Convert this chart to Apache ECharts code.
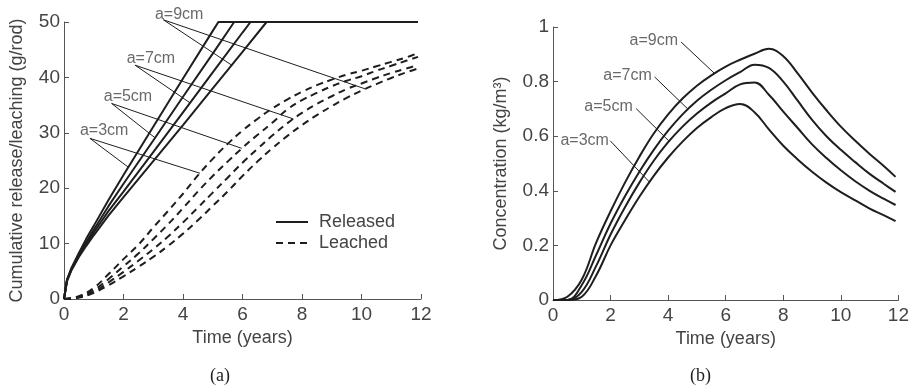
<!DOCTYPE html>
<html>
<head>
<meta charset="utf-8">
<script src="https://cdn.jsdelivr.net/npm/echarts@6/dist/echarts.min.js"></script>
<style>
html, body { margin: 0; padding: 0; background: #fff; }
#chart { width: 912px; height: 388px; }
</style>
</head>
<body>
<div id="chart"></div>
<script>
// (a) cumulative release (g/rod), one time list per rod radius
const relTime3 = [0, 0.1, 0.25, 0.5, 0.75, 1, 1.5, 2, 3, 4, 5, 5.19, 11.9]
const rel3 = [0, 3.5, 5.6, 8.3, 10.9, 13.2, 17.9, 22.4, 31.1, 39.8, 48.4, 50, 50]
const relTime5 = [0, 0.1, 0.25, 0.5, 0.75, 1, 1.5, 2, 3, 4, 5, 5.72, 11.9]
const rel5 = [0, 3.4, 5.4, 8.0, 10.3, 12.5, 16.8, 20.8, 28.6, 36.5, 44.3, 50, 50]
const relTime7 = [0, 0.1, 0.25, 0.5, 0.75, 1, 1.5, 2, 3, 4, 5, 6, 6.27, 11.9]
const rel7 = [0, 3.3, 5.3, 7.8, 10.0, 12.0, 15.9, 19.4, 26.5, 33.7, 40.9, 48.1, 50, 50]
const relTime9 = [0, 0.1, 0.25, 0.5, 0.75, 1, 1.5, 2, 3, 4, 5, 6, 6.81, 11.9]
const rel9 = [0, 3.2, 5.2, 7.6, 9.6, 11.5, 15.1, 18.4, 24.9, 31.4, 38.0, 44.6, 50, 50]

// (a) cumulative leaching (g/rod) and (b) concentration share one time grid
const years = [0, 0.5, 1, 1.5, 2, 2.5, 3, 3.5, 4, 4.5, 5, 5.5, 6, 6.5, 7, 7.5, 8, 8.5, 9, 9.5, 10, 10.5, 11, 11.5, 11.9]
const leach3 = [0, 0.5, 2.0, 4.5, 7.2, 9.8, 12.9, 15.9, 19.0, 22.3, 25.3, 28.0, 30.4, 32.5, 34.4, 36.0, 37.4, 38.6, 39.6, 40.5, 41.2, 42.0, 42.8, 43.6, 44.4]
const leach5 = [0, 0.4, 1.6, 3.6, 5.9, 8.2, 10.8, 13.5, 16.4, 19.4, 22.2, 24.8, 27.3, 29.6, 31.8, 34.2, 35.9, 37.2, 38.4, 39.4, 40.2, 41.2, 42.1, 43.0, 43.7]
const leach7 = [0, 0.3, 1.3, 3.0, 4.9, 6.9, 9.0, 11.3, 13.8, 16.5, 19.2, 21.9, 24.6, 27.1, 29.5, 31.7, 33.6, 35.2, 36.6, 37.9, 38.9, 39.9, 40.8, 41.6, 42.2]
const leach9 = [0, 0.25, 1.1, 2.5, 4.1, 5.8, 7.6, 9.6, 11.8, 14.2, 16.8, 19.4, 22.2, 24.8, 27.2, 29.4, 31.4, 33.2, 34.8, 36.3, 37.6, 38.8, 39.9, 40.9, 41.6]

// (b) concentration (kg/m3)
const conc3 = [0, 0, 0.012, 0.09, 0.2, 0.292, 0.378, 0.455, 0.522, 0.58, 0.63, 0.67, 0.703, 0.718, 0.688, 0.625, 0.565, 0.515, 0.47, 0.43, 0.395, 0.365, 0.335, 0.31, 0.289]
const conc5 = [0, 0, 0.03, 0.125, 0.24, 0.34, 0.43, 0.51, 0.578, 0.635, 0.683, 0.723, 0.757, 0.79, 0.797, 0.752, 0.69, 0.63, 0.57, 0.52, 0.475, 0.435, 0.4, 0.37, 0.348]
const conc7 = [0, 0, 0.055, 0.165, 0.28, 0.38, 0.47, 0.55, 0.62, 0.68, 0.73, 0.77, 0.805, 0.835, 0.862, 0.85, 0.8, 0.73, 0.66, 0.6, 0.55, 0.505, 0.462, 0.425, 0.396]
const conc9 = [0, 0.012, 0.075, 0.21, 0.325, 0.43, 0.525, 0.61, 0.68, 0.738, 0.785, 0.823, 0.855, 0.88, 0.902, 0.92, 0.893, 0.83, 0.76, 0.695, 0.635, 0.583, 0.535, 0.49, 0.451]

// annotation labels: text position and leader line (data coords)
const radiusLabels = ['a=3cm', 'a=5cm', 'a=7cm', 'a=9cm']
const labelPosA = [[1.35, 30.4], [2.15, 36.6], [2.92, 43.4], [3.87, 51.3]]
const leaderA = [
  [[2.16, 23.8], [0.87, 29], [4.57, 22.7]],
  [[3.06, 29.1], [1.6, 35.3], [5.97, 27.2]],
  [[4.24, 35.4], [2.39, 42.2], [7.71, 32.5]],
  [[5.64, 42.2], [3.34, 50.4], [10.14, 37.9]],
]
const labelPosB = [[1.1, 0.585], [1.93, 0.707], [2.59, 0.823], [3.5, 0.949]]
const leaderB = [
  [[1.99, 0.583], [3.35, 0.432]],
  [[2.89, 0.701], [4.05, 0.58]],
  [[3.53, 0.817], [4.68, 0.7]],
  [[4.45, 0.945], [5.61, 0.83]],
]

const ink = '#1e1e1e'
const textColor = '#444'
const font = 'Liberation Sans, Arial, sans-serif'

const zip = (xs, ys) => xs.map((x, i) => [x, ys[i]])

function curve(name, data, axis, dashed, smooth) {
  return {
    name,
    type: 'line',
    xAxisIndex: axis,
    yAxisIndex: axis,
    data,
    symbol: 'none',
    smooth,
    clip: false,
    silent: true,
    lineStyle: { color: ink, width: 2, type: dashed ? [7, 5] : 'solid' },
    itemStyle: { color: ink },
  }
}

function leader(data, axis) {
  return {
    name: 'leader',
    type: 'line',
    xAxisIndex: axis,
    yAxisIndex: axis,
    data,
    symbol: 'none',
    clip: false,
    silent: true,
    lineStyle: { color: ink, width: 1 },
  }
}

function labels(pos, axis) {
  return {
    name: 'label',
    type: 'scatter',
    xAxisIndex: axis,
    yAxisIndex: axis,
    symbolSize: 1,
    clip: false,
    silent: true,
    itemStyle: { color: 'rgba(0,0,0,0)' },
    label: {
      show: true,
      position: 'inside',
      formatter: '{b}',
      color: textColor,
      fontSize: 16,
      fontFamily: font,
    },
    data: pos.map((p, i) => ({ name: radiusLabels[i], value: p })),
  }
}

function xAxisOf(grid) {
  return {
    type: 'value',
    gridIndex: grid,
    min: 0,
    max: 12,
    interval: 2,
    name: 'Time (years)',
    nameLocation: 'middle',
    nameGap: 27,
    nameTextStyle: { color: textColor, fontSize: 18, fontFamily: font },
    axisLine: { show: true, onZero: false, lineStyle: { color: '#555', width: 1 } },
    axisTick: { show: true, inside: true, length: 5, lineStyle: { color: '#555' } },
    axisLabel: { color: textColor, fontSize: 19, fontFamily: font, margin: 6 },
    splitLine: { show: false },
  }
}

const chart = echarts.init(document.getElementById('chart'))

const series = [
  curve('Released', zip(relTime3, rel3), 0, false, false),
  curve('Released', zip(relTime5, rel5), 0, false, false),
  curve('Released', zip(relTime7, rel7), 0, false, false),
  curve('Released', zip(relTime9, rel9), 0, false, false),
  curve('Leached', zip(years, leach3), 0, true, 0.4),
  curve('Leached', zip(years, leach5), 0, true, 0.4),
  curve('Leached', zip(years, leach7), 0, true, 0.4),
  curve('Leached', zip(years, leach9), 0, true, 0.4),
  curve('conc3', zip(years, conc3), 1, false, 0.4),
  curve('conc5', zip(years, conc5), 1, false, 0.4),
  curve('conc7', zip(years, conc7), 1, false, 0.4),
  curve('conc9', zip(years, conc9), 1, false, 0.4),
  labels(labelPosA, 0),
  labels(labelPosB, 1),
]
leaderA.forEach(d => series.push(leader(d, 0)))
leaderB.forEach(d => series.push(leader(d, 1)))

chart.setOption({
  animation: false,
  backgroundColor: '#fff',
  grid: [
    { left: 64, right: 491, top: 22, bottom: 89 },
    { left: 553, right: 13, top: 27, bottom: 88 },
  ],
  legend: {
    data: ['Released', 'Leached'],
    orient: 'vertical',
    left: 270,
    top: 208,
    itemWidth: 32,
    itemHeight: 14,
    itemGap: 3,
    selectedMode: false,
    itemStyle: { opacity: 0 },
    textStyle: { color: textColor, fontSize: 18, fontFamily: font, lineHeight: 18, padding: [0, 0, 0, 6] },
  },
  xAxis: [xAxisOf(0), xAxisOf(1)],
  yAxis: [
    {
      type: 'value',
      gridIndex: 0,
      min: 0,
      max: 50,
      interval: 10,
      name: 'Cumulative release/leaching (g/rod)',
      nameLocation: 'middle',
      nameGap: 38,
      nameTextStyle: { color: textColor, fontSize: 18, fontFamily: font },
      axisLine: { show: true, lineStyle: { color: '#555', width: 1 } },
      axisTick: { show: true, inside: true, length: 5, lineStyle: { color: '#555' } },
      axisLabel: { color: textColor, fontSize: 19, fontFamily: font, margin: 4 },
      splitLine: { show: false },
    },
    {
      type: 'value',
      gridIndex: 1,
      min: 0,
      max: 1,
      interval: 0.2,
      name: 'Concentration (kg/m³)',
      nameLocation: 'middle',
      nameGap: 43,
      nameTextStyle: { color: textColor, fontSize: 18, fontFamily: font },
      axisLine: { show: true, lineStyle: { color: '#555', width: 1 } },
      axisTick: { show: true, inside: true, length: 5, lineStyle: { color: '#555' } },
      axisLabel: {
        color: textColor, fontSize: 19, fontFamily: font, margin: 4,
        formatter: v => String(+v.toFixed(1)),
      },
      splitLine: { show: false },
    },
  ],
  graphic: [
    { type: 'text', left: 210, top: 367, style: { text: '(a)', fontSize: 18, fontFamily: 'Liberation Serif, serif', fill: '#222' } },
    { type: 'text', left: 690, top: 367, style: { text: '(b)', fontSize: 18, fontFamily: 'Liberation Serif, serif', fill: '#222' } },
  ],
  series,
})
</script>
</body>
</html>
